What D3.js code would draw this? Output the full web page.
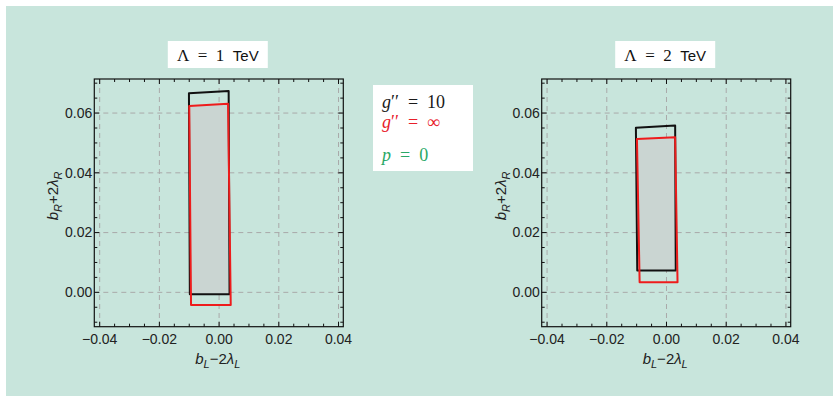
<!DOCTYPE html>
<html>
<head>
<meta charset="utf-8">
<script src="https://cdn.jsdelivr.net/npm/d3@7"></script>
<style>
  html, body { margin: 0; padding: 0; background: #fff; }
  svg { display: block; }
</style>
</head>
<body>
<div id="chart"></div>
<script>
// Axis ticks (shared by both panels)
const xTicks = [-0.04, -0.02, 0.00, 0.02, 0.04];
const yTicks = [0.00, 0.02, 0.04, 0.06];
const xDomain = [-0.0418, 0.0416];
const yDomain = [-0.0115, 0.0714];

// Panel titles (Λ value in TeV)
const lambdaValues = [1, 2];

// Allowed-region outlines, [b_L-2λ_L, b_R+2λ_R]
const black1 = [[-0.0101, 0.0666], [0.0032, 0.0674], [0.0035, -0.0006], [-0.0098, -0.0006]];
const red1 = [[-0.0100, 0.0624], [0.0030, 0.0631], [0.0039, -0.0042], [-0.0094, -0.0042]];
const fill1 = [[-0.0100, 0.0624], [0.0030, 0.0631], [0.0035, -0.0006], [-0.0096, -0.0006]];

const black2 = [[-0.01025, 0.0551], [0.0029, 0.0558], [0.0031, 0.0073], [-0.0098, 0.0073]];
const red2 = [[-0.0099, 0.0513], [0.0029, 0.0519], [0.0037, 0.0034], [-0.0090, 0.0034]];
const fill2 = [[-0.0099, 0.0513], [0.0029, 0.0519], [0.0031, 0.0073], [-0.0095, 0.0073]];

// Legend entries
const legendItems = [
  { g: "g", rhs: "10", color: "#1a1a1a" },
  { g: "g", rhs: "∞", color: "#e8202a" }
];
const pLabel = "0";

const width = 833, height = 396;
const panelW = 249, panelH = 247.7;
const panelX = [94.3, 541.7];
const panelY = 79;

const svg = d3.select('#chart')
  .append('svg')
  .attr('width', width)
  .attr('height', height);

// Mint background
svg.append('rect')
  .attr('x', 6).attr('y', 6)
  .attr('width', width - 6).attr('height', height - 6)
  .attr('fill', '#c8e5dc');

const x = d3.scaleLinear().domain(xDomain).range([0, panelW]);
const y = d3.scaleLinear().domain(yDomain).range([panelH, 0]);
const line = d3.line().x(d => x(d[0])).y(d => y(d[1])).curve(d3.curveLinearClosed);

const tickFont = '"Liberation Sans", Arial, sans-serif';
const serifFont = '"Liberation Serif", "DejaVu Serif", serif';

const panels = [
  { black: black1, red: red1, fill: fill1, lambda: lambdaValues[0] },
  { black: black2, red: red2, fill: fill2, lambda: lambdaValues[1] }
];

panels.forEach((p, i) => {
  const g = svg.append('g')
    .attr('transform', `translate(${panelX[i]},${panelY})`);

  // Grid lines
  g.append('g')
    .selectAll('line')
    .data(xTicks)
    .join('line')
    .attr('x1', d => x(d)).attr('x2', d => x(d))
    .attr('y1', 0).attr('y2', panelH)
    .attr('stroke', '#a9a9a9')
    .attr('stroke-width', 1)
    .attr('stroke-dasharray', '5,4');

  g.append('g')
    .selectAll('line')
    .data(yTicks)
    .join('line')
    .attr('x1', 0).attr('x2', panelW)
    .attr('y1', d => y(d)).attr('y2', d => y(d))
    .attr('stroke', '#a9a9a9')
    .attr('stroke-width', 1)
    .attr('stroke-dasharray', '5,4');

  // Allowed region (overlap) fill
  g.append('path')
    .attr('d', line(p.fill))
    .attr('fill', '#cad5d2');

  // Outlines
  g.append('path')
    .attr('d', line(p.black))
    .attr('fill', 'none')
    .attr('stroke', '#111')
    .attr('stroke-width', 2)
    .attr('stroke-linejoin', 'round');

  g.append('path')
    .attr('d', line(p.red))
    .attr('fill', 'none')
    .attr('stroke', '#ee1c1c')
    .attr('stroke-width', 2)
    .attr('stroke-linejoin', 'round');

  // Frame ticks (inside), major + minor on all sides
  const xMinor = d3.range(-0.04, 0.0401, 0.005);
  const yMinor = d3.range(-0.01, 0.0701, 0.005);
  const isMajor = v => Math.abs(Math.round(v / 0.02) * 0.02 - v) < 1e-9;

  const tg = g.append('g').attr('stroke', '#111').attr('stroke-width', 1);
  xMinor.forEach(v => {
    const len = isMajor(v) ? 5 : 3;
    tg.append('line').attr('x1', x(v)).attr('x2', x(v)).attr('y1', panelH).attr('y2', panelH - len);
    tg.append('line').attr('x1', x(v)).attr('x2', x(v)).attr('y1', 0).attr('y2', len);
  });
  yMinor.forEach(v => {
    const len = isMajor(v) ? 5 : 3;
    tg.append('line').attr('x1', 0).attr('x2', len).attr('y1', y(v)).attr('y2', y(v));
    tg.append('line').attr('x1', panelW).attr('x2', panelW - len).attr('y1', y(v)).attr('y2', y(v));
  });

  g.append('rect')
    .attr('width', panelW).attr('height', panelH)
    .attr('fill', 'none')
    .attr('stroke', '#111')
    .attr('stroke-width', 1.2);

  // Tick labels
  g.append('g')
    .selectAll('text')
    .data(xTicks)
    .join('text')
    .attr('x', d => x(d))
    .attr('y', panelH + 17)
    .attr('text-anchor', 'middle')
    .style('font-family', tickFont)
    .style('font-size', '14px')
    .style('fill', '#222')
    .text(d => d3.format('.2f')(d).replace('-', '−'));

  g.append('g')
    .selectAll('text')
    .data(yTicks)
    .join('text')
    .attr('x', -2)
    .attr('y', d => y(d))
    .attr('dy', '0.35em')
    .attr('text-anchor', 'end')
    .style('font-family', tickFont)
    .style('font-size', '14px')
    .style('fill', '#222')
    .text(d => d3.format('.2f')(d));

  // Axis labels
  const xl = g.append('text')
    .attr('x', panelW / 2 - 1)
    .attr('y', panelH + 37)
    .attr('text-anchor', 'middle')
    .style('font-family', tickFont)
    .style('font-size', '15px')
    .style('font-style', 'italic')
    .style('fill', '#222');
  xl.append('tspan').text('b');
  xl.append('tspan').attr('dy', 4).style('font-size', '11px').text('L');
  xl.append('tspan').attr('dy', -4).style('font-style', 'normal').text('−2');
  xl.append('tspan').text('λ');
  xl.append('tspan').attr('dy', 4).style('font-size', '11px').text('L');

  const yl = g.append('text')
    .attr('transform', `translate(${-36},${panelH / 2 - 7}) rotate(-90)`)
    .attr('text-anchor', 'middle')
    .style('font-family', tickFont)
    .style('font-size', '15px')
    .style('font-style', 'italic')
    .style('fill', '#222');
  yl.append('tspan').text('b');
  yl.append('tspan').attr('dy', 4).style('font-size', '11px').text('R');
  yl.append('tspan').attr('dy', -4).style('font-style', 'normal').text('+2');
  yl.append('tspan').text('λ');
  yl.append('tspan').attr('dy', 4).style('font-size', '11px').text('R');

  // Title box
  const cx = panelW / 2 - 1;
  g.append('rect')
    .attr('x', cx - 50).attr('y', -38)
    .attr('width', 100).attr('height', 27)
    .attr('fill', '#fff');
  const tt = g.append('text')
    .attr('x', cx)
    .attr('y', -18.5)
    .attr('text-anchor', 'middle')
    .style('font-size', '17px')
    .style('fill', '#111')
    .attr('xml:space', 'preserve');
  tt.append('tspan').style('font-family', serifFont).text(`Λ\u2002=\u2002${p.lambda}\u2002`);
  tt.append('tspan').style('font-family', tickFont).style('font-size', '15px').text('TeV');
});

// Legend box
svg.append('rect')
  .attr('x', 373).attr('y', 85)
  .attr('width', 100).attr('height', 86)
  .attr('fill', '#fff');

legendItems.forEach((d, i) => {
  const t = svg.append('text')
    .attr('x', 382)
    .attr('y', 108 + i * 20)
    .style('font-family', serifFont)
    .style('font-size', '18px')
    .style('fill', d.color);
  t.append('tspan').style('font-style', 'italic').text(d.g);
  t.append('tspan').text(`′′\u2002=\u2002${d.rhs}`);
});

const pt = svg.append('text')
  .attr('x', 382)
  .attr('y', 161)
  .style('font-family', serifFont)
  .style('font-size', '18px')
  .style('fill', '#2aa866');
pt.append('tspan').style('font-style', 'italic').text('p');
pt.append('tspan').text(`\u2002=\u2002${pLabel}`);
</script>
</body>
</html>
